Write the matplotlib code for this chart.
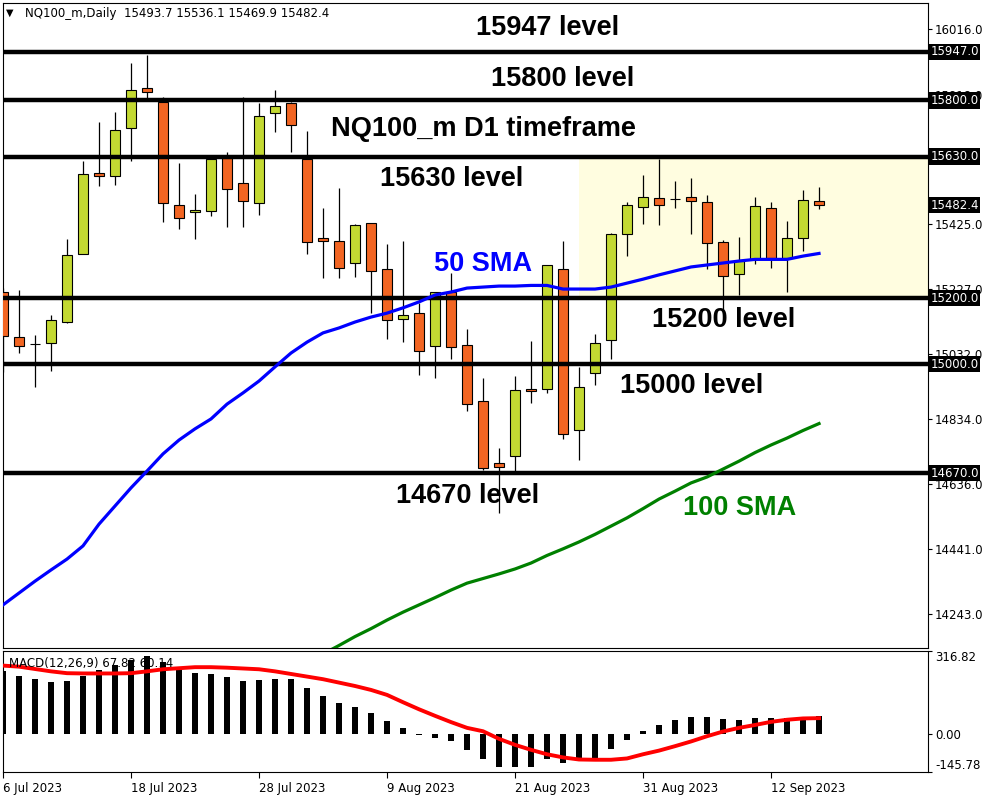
# NQ100_m daily chart with levels, SMAs and MACD panel (MT4 style)
import numpy as np
import matplotlib.pyplot as plt
from matplotlib.transforms import blended_transform_factory

plt.rcParams['font.family'] = ['DejaVu Sans']

# --- data ---
opens = [15220, 15082, 15061, 15064, 15129, 15333, 15580, 15570, 15716, 15837,
         15796, 15482, 15461, 15464, 15625, 15549, 15488, 15761, 15791, 15622,
         15382, 15373, 15306, 15427, 15288, 15136, 15154, 15056, 15220, 15057,
         14888, 14700, 14721, 14925, 14924, 15288, 14800, 14972, 15073, 15394,
         15476, 15503, 15500, 15506, 15491, 15370, 15273, 15319, 15473, 15321,
         15382, 15493.7]
highs = [15231, 15225, 15089, 15149, 15380, 15616, 15735, 15765, 15915, 15938,
         15811, 15609, 15516, 15622, 15643, 15810, 15793, 15832, 15795, 15707,
         15473, 15534, 15425, 15427, 15365, 15375, 15185, 15218, 15276, 15106,
         14957, 14745, 14964, 15070, 15302, 15374, 14992, 15092, 15397, 15492,
         15574, 15622, 15556, 15565, 15513, 15377, 15386, 15507, 15492, 15434,
         15528, 15536.1]
lows = [14976, 15035, 14932, 14980, 15126, 15333, 15542, 15545, 15616, 15807,
        15432, 15411, 15381, 15451, 15417, 15417, 15454, 15705, 15645, 15333,
        15261, 15261, 15264, 15155, 15077, 15068, 14967, 14959, 15017, 14859,
        14679, 14550, 14674, 14883, 14912, 14772, 14710, 14937, 15016, 15329,
        15426, 15423, 15475, 15396, 15290, 15164, 15211, 15303, 15293, 15220,
        15344, 15469.9]
closes = [15086, 15054, 15061, 15133, 15330, 15577, 15572, 15710, 15832, 15825,
          15488, 15443, 15468, 15622, 15531, 15494, 15752, 15782, 15725, 15370,
          15373, 15291, 15421, 15282, 15133, 15148, 15039, 15218, 15051, 14878,
          14684, 14687, 14921, 14918, 15300, 14788, 14930, 15063, 15394, 15482,
          15506, 15482, 15500, 15494, 15367, 15267, 15314, 15479, 15321, 15382,
          15497, 15482.4]

sma50 = [14270, 14306, 14342, 14376, 14409, 14449, 14515, 14570, 14625, 14676,
         14728, 14770, 14804, 14834, 14879, 14913, 14949, 14992, 15034, 15067,
         15095, 15110, 15128, 15143, 15155, 15171, 15189, 15210, 15219, 15231,
         15234, 15237, 15237, 15239, 15239, 15228, 15228, 15228, 15234, 15246,
         15258, 15271, 15283, 15295, 15301, 15307, 15313, 15318, 15318, 15318,
         15328, 15336]
sma100_start = 20
sma100 = [14121, 14147, 14174, 14198, 14224, 14248, 14270, 14292, 14315, 14336,
          14350, 14364, 14379, 14397, 14420, 14440, 14461, 14484, 14509, 14534,
          14562, 14591, 14615, 14640, 14658, 14682, 14706, 14732, 14755, 14776,
          14799, 14820]

macd_hist = [242, 222, 208, 199, 203, 223, 245, 264, 284, 296,
             274, 248, 233, 229, 218, 203, 206, 211, 208, 177,
             145, 118, 104, 80, 50, 23, -6, -14, -29, -61,
             -96, -125, -125, -125, -96, -110, -104, -96, -56, -23,
             10, 34, 52, 65, 65, 57, 52, 61, 59, 62,
             62, 67.82]
macd_signal = [261, 257, 248, 239, 232, 231, 231, 231, 232, 239,
               247, 251, 255, 255, 253, 250, 247, 239, 229, 219,
               209, 196, 183, 168, 149, 121, 94, 69, 45, 23,
               10, -19, -42, -61, -78, -90, -98, -99, -99, -94,
               -78, -64, -47, -29, -9, 9, 23, 34, 46, 54,
               59, 60.14]

levels = [15947, 15800, 15630, 15200, 15000, 14670]
level_tags = ['15947.0', '15800.0', '15630.0', '15200.0', '15000.0', '14670.0']
last_price = 15482.4
price_ticks = [16016.0, 15818.0, 15425.0, 15227.0, 15032.0, 14834.0, 14636.0, 14441.0, 14243.0]
date_ticks = [0, 8, 16, 24, 32, 40, 48]
date_labels = ['6 Jul 2023', '18 Jul 2023', '28 Jul 2023', '9 Aug 2023',
               '21 Aug 2023', '31 Aug 2023', '12 Sep 2023']

bull = '#C3D932'
bear = '#F26522'

n = len(closes)
idx = np.arange(n)
o = np.array(opens)
c = np.array(closes)

fig = plt.figure(figsize=(10, 8), dpi=100)
ax = fig.add_axes([0.003, 0.19, 0.925, 0.80625])
axm = fig.add_axes([0.003, 0.035, 0.925, 0.15125])

# shaded range box
ax.fill_between([36, 58], 15200, 15630, color='#FFFDE0', zorder=1, lw=0)

# candles
ax.vlines(idx, lows, highs, color='black', lw=0.9, zorder=2)
cols = [bull if cc >= oo else bear for oo, cc in zip(o, c)]
ax.bar(idx, np.abs(c - o), bottom=np.minimum(o, c), width=0.625,
       color=cols, edgecolor='black', linewidth=0.8, zorder=3)

# levels
for lv in levels:
    ax.axhline(lv, color='black', lw=3.2, zorder=4)

# moving averages
ax.plot(idx, sma50, color='#0000FF', lw=2.3, zorder=5)
ax.plot(idx[sma100_start:], sma100, color='#008000', lw=2.3, zorder=5)

# annotations
tkw = dict(fontsize=19.5, fontweight='bold', family='Liberation Sans',
           ha='center', va='center', zorder=6)
ax.text(34.06, 16020, '15947 level', **tkw)
ax.text(35.0, 15865, '15800 level', **tkw)
ax.text(30.0, 15713, 'NQ100_m D1 timeframe', **tkw)
ax.text(28.06, 15562, '15630 level', **tkw)
ax.text(30.0, 15304, '50 SMA', color='#0000FF', **tkw)
ax.text(45.06, 15134, '15200 level', **tkw)
ax.text(43.06, 14934, '15000 level', **tkw)
ax.text(29.06, 14600, '14670 level', **tkw)
ax.text(46.06, 14564, '100 SMA', color='#008000', **tkw)

ax.set_xlim(0, 57.81)
ax.set_ylim(14139.3, 16095.6)
ax.set_xticks([])
ax.yaxis.tick_right()
ax.set_yticks(price_ticks)
ax.set_yticklabels([f'{t:.1f}' for t in price_ticks])
ax.tick_params(axis='y', length=3, width=0.8, labelsize=8.5, pad=2)

tr = blended_transform_factory(ax.transAxes, ax.transData)
for lv, tag in zip(levels + [last_price], level_tags + ['15482.4']):
    ax.text(1.0025, lv, tag, transform=tr, color='white', fontsize=8.5,
            ha='left', va='center', clip_on=False, zorder=10,
            bbox=dict(facecolor='black', edgecolor='none', pad=1.2))

# MACD panel
axm.bar(idx, macd_hist, width=0.42, color='black', zorder=2)
axm.plot(idx, macd_signal, color='#FF0000', lw=2.8, zorder=3)
axm.set_xlim(0, 57.81)
axm.set_ylim(-145.78, 316.82)
axm.yaxis.tick_right()
axm.set_yticks([316.82, 0, -145.78])
axm.set_yticklabels(['316.82', '0.00', '-145.78'])
ylabs = axm.get_yticklabels()
ylabs[0].set_va('top')
ylabs[2].set_va('bottom')
axm.tick_params(axis='y', length=3, width=0.8, labelsize=8.5, pad=2)
axm.set_xticks(date_ticks)
axm.set_xticklabels(date_labels, ha='left')
axm.tick_params(axis='x', length=4, width=0.8, labelsize=8.5, pad=3)
axm.text(0.006, 0.9, 'MACD(12,26,9) 67.82 60.14', transform=axm.transAxes,
         fontsize=8.5, va='center', ha='left', zorder=5)

for a in (ax, axm):
    for s in a.spines.values():
        s.set_linewidth(0.8)

# header
fig.text(0.006, 1 - 13 / 800, '\u25bc', fontsize=7, va='center')
fig.text(0.025, 1 - 13 / 800, 'NQ100_m,Daily  15493.7 15536.1 15469.9 15482.4',
         fontsize=8.5, va='center')

plt.savefig('out.png', dpi=100)
